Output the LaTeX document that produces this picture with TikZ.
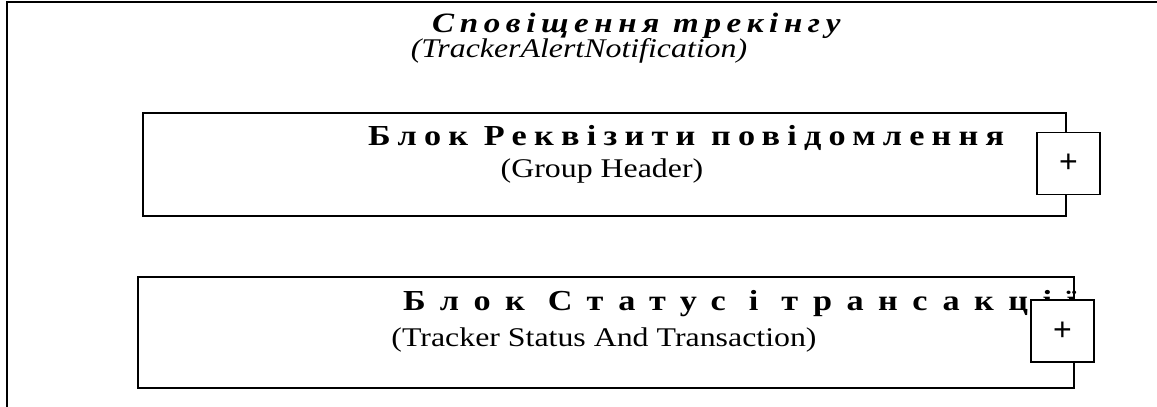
\documentclass[tikz,border=0pt]{standalone}
\usepackage{fontspec}
\setmainfont{Liberation Serif}[FakeStretch=1.18]
\newfontfamily\plusfont{Liberation Sans}
\usetikzlibrary{positioning}

\newcommand{\spacedtext}[2]{{\addfontfeature{LetterSpace=#1}#2}}

\begin{document}
\begin{tikzpicture}[x=1pt, y=-1pt,
    blockbox/.style={draw, line width=2.6pt, inner sep=0pt},
    plusbox/.style={draw, line width=1.3pt, fill=white, minimum width=63pt, minimum height=62pt, inner sep=0pt, font=\plusfont\fontsize{32}{32}\selectfont},
    heading/.style={anchor=base west, inner sep=0pt, font=\bfseries\fontsize{29}{32}\selectfont},
    caption/.style={anchor=base, inner sep=0pt, font=\fontsize{27}{32}\selectfont}]
  \useasboundingbox (0,0) rectangle (1157,407);

  % Frame
  \draw[line width=2.6pt] (1157,2) -- (7,2) -- (7,407);

  % Title
  \node[heading, font=\bfseries\itshape\fontsize{28}{32}\selectfont] (title) at (432,32) {\spacedtext{20}{Сповіщення трекінгу}};
  \node[caption, font=\itshape\fontsize{27}{32}\selectfont] (titlesub) at (579,57) {(TrackerAlertNotification)};

  % Group header block
  \node[blockbox, minimum width=923pt, minimum height=103pt] (hdr) at (604.5,164.5) {};
  \node[heading] (hdrname) at (368,145) {\spacedtext{25}{Блок Реквізити повідомлення}};
  \node[caption] (hdrsub) at (602,177) {(Group Header)};
  \node[plusbox] (hdrplus) at (1068.5,163.5) {+};

  % Status and transaction block
  \node[blockbox, minimum width=936pt, minimum height=111pt] (trx) at (606,332.5) {};
  \node[heading] (trxname) at (403,310) {\spacedtext{50}{Блок Статус і трансакції}};
  \node[caption] (trxsub) at (604,346) {(Tracker Status And Transaction)};
  \node[plusbox] (trxplus) at (1062.5,331) {+};
\end{tikzpicture}
\end{document}
